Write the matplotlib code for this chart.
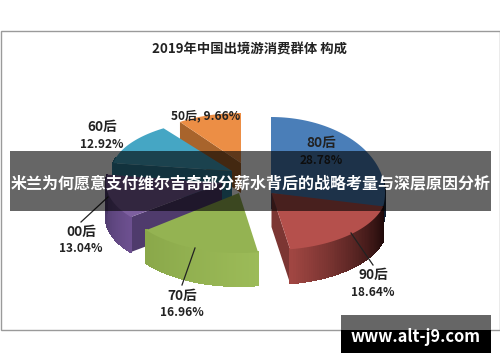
import matplotlib
matplotlib.use('Agg')
import matplotlib.pyplot as plt
from matplotlib.colors import to_rgb
import numpy as np

plt.rcParams['font.family'] = ['Noto Sans CJK SC', 'DejaVu Sans']

title = '2019年中国出境游消费群体 构成'
banner = '米兰为何愿意支付维尔吉奇部分薪水背后的战略考量与深层原因分析'
site = 'www.alt-j9.com'

groups = ['80后', '90后', '70后', '00后', '60后', '50后']
shares = [28.78, 18.64, 16.96, 13.04, 12.92, 9.66]

# colours per slice: top, wall near, wall far, cut face
tops = ['#4a7eb8', '#b5504c', '#94b352', '#7d5f9f', '#45a6c4', '#ec8e45']
wall_a = ['#2c4d75', '#a04642', '#8aa84a', '#6d5090', '#30809c', '#a8642c']
wall_b = ['#101c2c', '#1c0808', '#9cbb58', '#4a3868', '#276a82', '#a8642c']
faces = ['#2c4d75', '#7c3633', '#7f9c42', '#4f3b6c', '#2f7f99', '#a8642c']

# where each slice sits in the picture (pixels): cx, cy, rx, ry, depth
place = [
    (271, 193, 114, 76, 16),
    (271.5, 193, 115, 57, 34),
    (239, 193, 118, 60, 33),
    (222, 183, 116, 55, 35),
    (232, 171, 120, 52, 30),
    (241, 163, 107, 50, 30),
]

# label pixel positions
label_pos = [(321, 143), (373, 275), (182, 296), (81, 232), (102, 127)]
leaders = [((108, 197), (81, 222)), ((195, 248), (182, 285)), ((351, 233), (373, 265))]

fig = plt.figure(figsize=(5, 3.62), dpi=100)
ax = fig.add_axes([0, 0, 1, 1])
ax.set_xlim(0, 500)
ax.set_ylim(362, 0)
ax.axis('off')

ax.add_patch(plt.Rectangle((0.5, 30.5), 499, 299, fc='white', ec='#9a9a9a', lw=1, zorder=0))


def point(p, ang):
    cx, cy, rx, ry, d = p
    return cx + rx * np.sin(ang), cy - ry * np.cos(ang)


def draw_slice(start, end, p, top, wa, wb, face, z):
    cx, cy, rx, ry, d = p
    # cut faces turned to the viewer
    for a, show in ((start, np.sin(start) < 0), (end, np.sin(end) > 0)):
        if show:
            x, y = point(p, a)
            ax.fill([cx, x, x, cx], [cy, y, y + d, cy + d], color=face, lw=0, zorder=z)
    # outer wall, shaded in small strips
    t = np.linspace(start, end, 60)
    x, y = point(p, t)
    ca, cb = np.array(to_rgb(wa)), np.array(to_rgb(wb))
    for i in range(len(t) - 1):
        if np.cos(t[i]) > 0.25:
            continue
        f = i / (len(t) - 2)
        if np.sin(start) > 0:
            f = 1 - f
        ax.fill([x[i], x[i + 1], x[i + 1], x[i]], [y[i], y[i + 1], y[i + 1] + d, y[i] + d],
                color=ca + (cb - ca) * f, lw=0.8, antialiased=False, zorder=z + 0.1)
    ax.fill(np.r_[cx, x], np.r_[cy, y], color=top, lw=0, zorder=z + 0.2)


edges = np.radians(np.r_[0, np.cumsum(shares)] * 3.6)
order = [5, 4, 0, 3, 1, 2]
for n, i in enumerate(order):
    draw_slice(edges[i], edges[i + 1], place[i], tops[i], wall_a[i], wall_b[i], faces[i], 2 + n)

for a, b in leaders:
    ax.plot([a[0], b[0]], [a[1], b[1]], color='#222222', lw=0.9, zorder=10)

ax.text(250, 49, title, ha='center', va='center', fontsize=9.6, fontweight='bold', color='#222222', zorder=11)
for i, (x, y) in enumerate(label_pos):
    ax.text(x, y, groups[i], ha='center', va='center', fontsize=9.8, fontweight='bold', color='#222222', zorder=11)
    ax.text(x, y + 17, f'{shares[i]:.2f}%', ha='center', va='center', fontsize=8.6, fontweight='bold', color='#222222', zorder=11)
ax.text(206, 116, f'{groups[5]}, {shares[5]:.2f}%', ha='center', va='center', fontsize=8.6, fontweight='bold', color='#222222', zorder=11)

ax.add_patch(plt.Rectangle((10, 151), 481, 60, fc='black', alpha=0.6, lw=0, zorder=12))
ax.text(250.5, 184, banner, ha='center', va='center', fontsize=11.5, fontweight='bold', color='white', zorder=13)

ax.add_patch(plt.Rectangle((341, 315), 150, 15, fc='#666666', lw=0, zorder=12))
ax.add_patch(plt.Rectangle((341, 330), 150, 23, fc='black', lw=0, zorder=12))
ax.text(415.5, 337, site, ha='center', va='center', fontsize=11.8, fontweight='bold', color='white', zorder=13)

fig.savefig('out.png', dpi=100)
